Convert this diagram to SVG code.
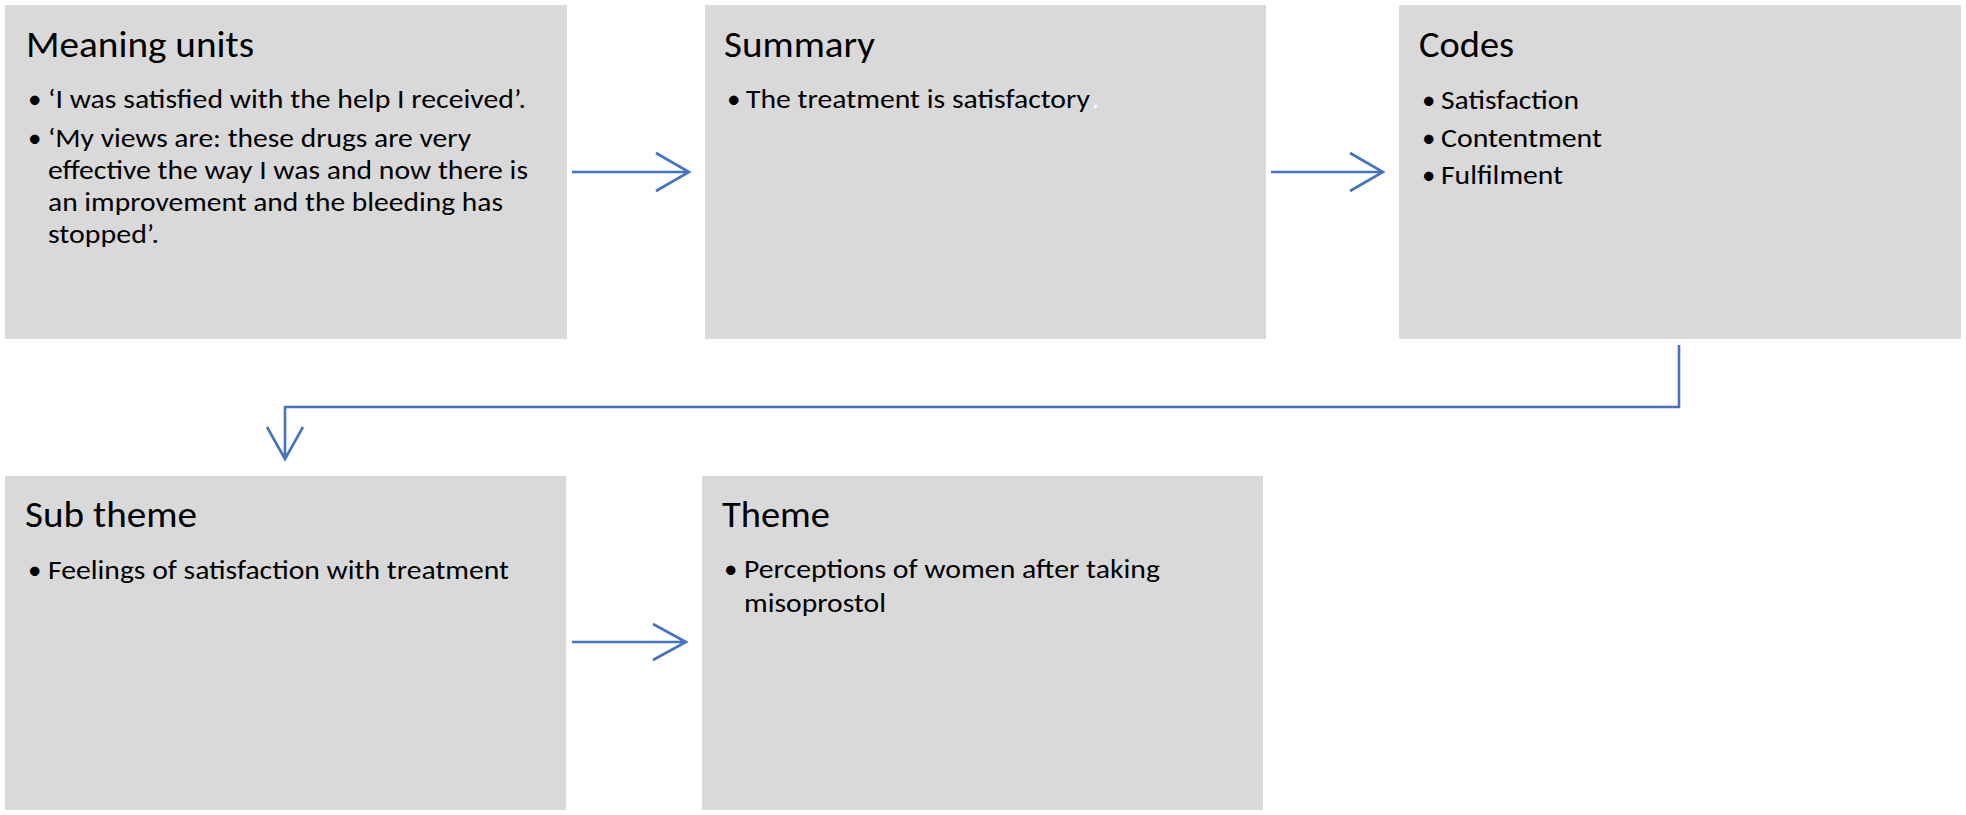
<svg xmlns="http://www.w3.org/2000/svg" width="1966" height="815" viewBox="0 0 1966 815">
<style>
.box{fill:#D9D9D9}
.t{font-family:Carlito,Calibri,"Liberation Sans",sans-serif;fill:#000}
.h{font-size:36px}
.b{font-size:27px}
.c{fill:none;stroke:#4472C4;stroke-width:2.6;stroke-linejoin:miter}
</style>
<rect width="1966" height="815" fill="#fff"/>
<g id="meaning-units">
<rect class="box" x="5" y="5" width="562" height="334"/>
<text class="t h" x="26" y="57" textLength="228" lengthAdjust="spacingAndGlyphs">Meaning units</text>
<text class="t b" x="28" y="108">•</text>
<text class="t b" x="48" y="108" textLength="478" lengthAdjust="spacingAndGlyphs">‘I was satisfied with the help I received’.</text>
<text class="t b" x="28" y="147">•</text>
<text class="t b" x="48" y="147" textLength="423" lengthAdjust="spacingAndGlyphs">‘My views are: these drugs are very</text>
<text class="t b" x="48" y="179" textLength="480" lengthAdjust="spacingAndGlyphs">effective the way I was and now there is</text>
<text class="t b" x="48" y="211" textLength="455" lengthAdjust="spacingAndGlyphs">an improvement and the bleeding has</text>
<text class="t b" x="48" y="243" textLength="111" lengthAdjust="spacingAndGlyphs">stopped’.</text>
</g>
<g id="summary">
<rect class="box" x="705" y="5" width="561" height="334"/>
<text class="t h" x="724" y="57" textLength="151" lengthAdjust="spacingAndGlyphs">Summary</text>
<text class="t b" x="727" y="108">•</text>
<text class="t b" x="746" y="108" textLength="344" lengthAdjust="spacingAndGlyphs">The treatment is satisfactory</text>
<text class="t b" x="1092" y="108" style="fill:#fff">.</text>
</g>
<g id="codes">
<rect class="box" x="1399" y="5" width="562" height="334"/>
<text class="t h" x="1419" y="57" textLength="95" lengthAdjust="spacingAndGlyphs">Codes</text>
<text class="t b" x="1422" y="109">•</text>
<text class="t b" x="1441" y="109" textLength="138" lengthAdjust="spacingAndGlyphs">Satisfaction</text>
<text class="t b" x="1422" y="147">•</text>
<text class="t b" x="1441" y="147" textLength="161" lengthAdjust="spacingAndGlyphs">Contentment</text>
<text class="t b" x="1422" y="184">•</text>
<text class="t b" x="1441" y="184" textLength="122" lengthAdjust="spacingAndGlyphs">Fulfilment</text>
</g>
<g id="sub-theme">
<rect class="box" x="5" y="476" width="561" height="334"/>
<text class="t h" x="25" y="527" textLength="172" lengthAdjust="spacingAndGlyphs">Sub theme</text>
<text class="t b" x="28" y="579">•</text>
<text class="t b" x="48" y="579" textLength="461" lengthAdjust="spacingAndGlyphs">Feelings of satisfaction with treatment</text>
</g>
<g id="theme">
<rect class="box" x="702" y="476" width="561" height="334"/>
<text class="t h" x="722" y="527" textLength="108" lengthAdjust="spacingAndGlyphs">Theme</text>
<text class="t b" x="724" y="578">•</text>
<text class="t b" x="744" y="578" textLength="416" lengthAdjust="spacingAndGlyphs">Perceptions of women after taking</text>
<text class="t b" x="744" y="612" textLength="142" lengthAdjust="spacingAndGlyphs">misoprostol</text>
</g>
<g id="connectors">
<path class="c" d="M572 172 H689 M656 153 L689 172 L656 191"/>
<path class="c" d="M1271 172 H1383 M1350 153 L1383 172 L1350 191"/>
<path class="c" d="M1679 345 V407 H285 V459 M267 427 L285 459 L303 427"/>
<path class="c" d="M572 642 H686 M653 624 L686 642 L653 660"/>
</g>
</svg>
